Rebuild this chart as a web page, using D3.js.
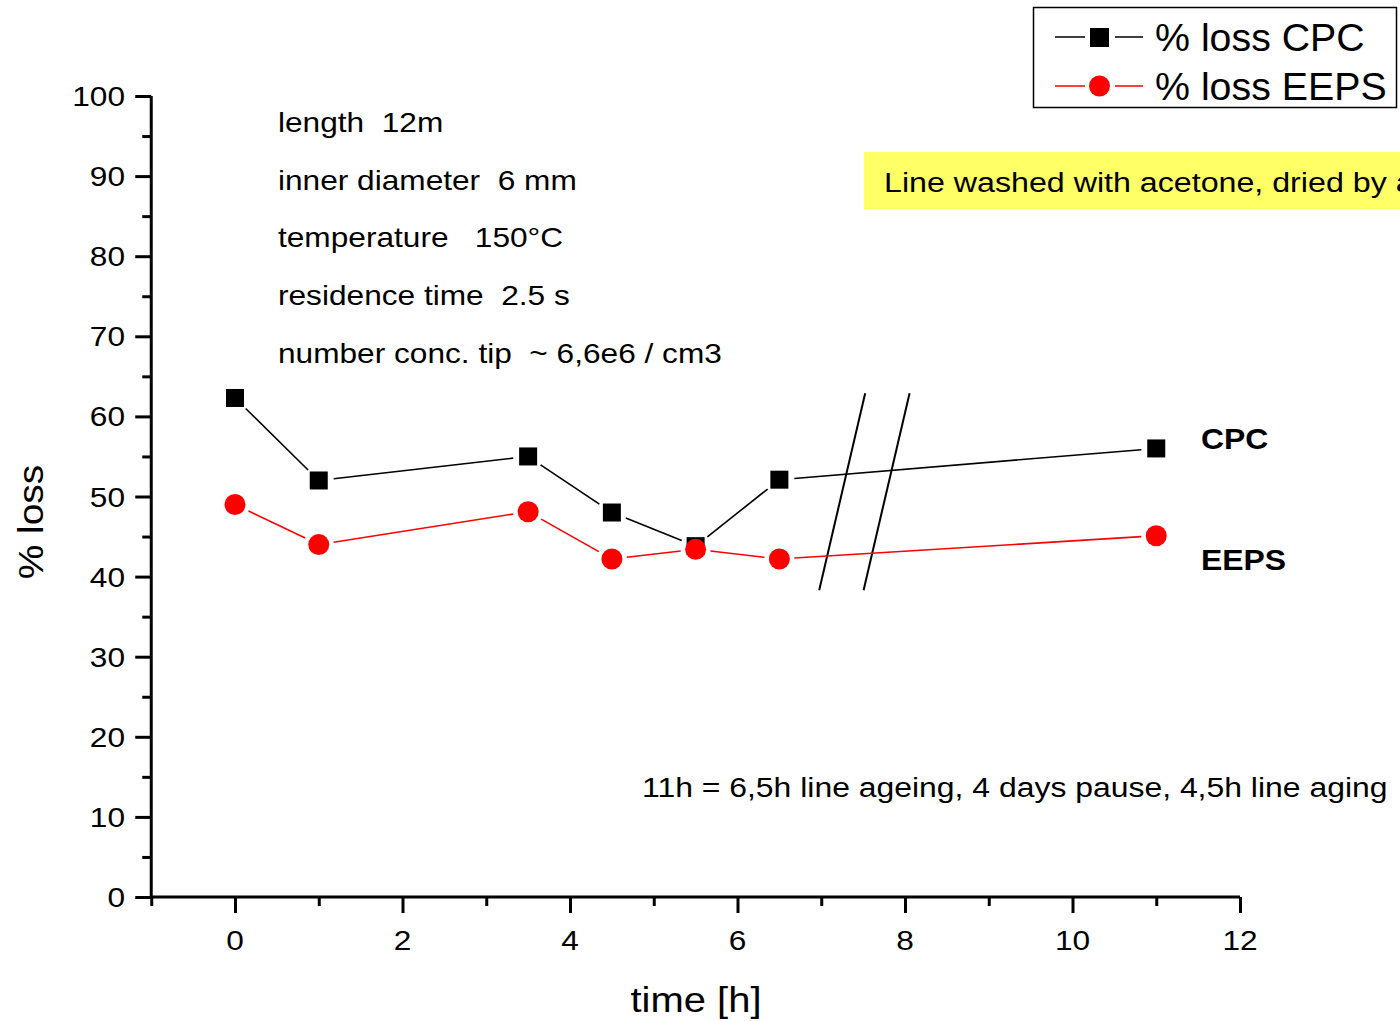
<!DOCTYPE html>
<html><head><meta charset="utf-8">
<script src="https://cdn.jsdelivr.net/npm/d3@7"></script>
<style>body{margin:0;background:#fff}svg{display:block;font-family:"Liberation Sans",Arial,sans-serif}</style>
</head><body><svg id="c" width="1400" height="1021"></svg>
<script>
const times = [0, 1, 3.5, 4.5, 5.5, 6.5, 11];
const cpc = [62.3, 52, 55, 48, 43.8, 52.1, 56];
const eeps = [49, 44, 48.1, 42.2, 43.4, 42.2, 45.1];
const xTicks = [0, 2, 4, 6, 8, 10, 12];
const yTicks = [0, 10, 20, 30, 40, 50, 60, 70, 80, 90, 100];
const infoLines = ["length  12m", "inner diameter  6 mm", "temperature   150°C", "residence time  2.5 s", "number conc. tip  ~ 6,6e6 / cm3"];
const breakMarks = [7.25, 7.78];

const svg = d3.select("#c");
const x = d3.scaleLinear().domain([-1, 12]).range([151.25, 1240]);
const y = d3.scaleLinear().domain([0, 100]).range([897, 96]);
const SX = 1.13;

function txt(g, tx, ty, s, opts = {}) {
  const t = g.append("text")
    .attr("transform", `translate(${tx},${ty})${opts.rotate ? " rotate(" + opts.rotate + ")" : ""} scale(${opts.sx || SX},1)`)
    .attr("font-size", opts.size || 28)
    .attr("text-anchor", opts.anchor || "start")
    .style("white-space", "pre")
    .text(s);
  if (opts.bold) t.attr("font-weight", "bold");
  return t;
}

// axes
const xAx = svg.append("g").attr("transform", "translate(0,897)")
  .call(d3.axisBottom(x).tickValues(d3.range(-1, 12.5, 1)).tickSize(9).tickFormat(""));
xAx.selectAll(".tick line").attr("y2", d => d % 2 === 0 ? 16 : 9);
const yAx = svg.append("g").attr("transform", "translate(151.25,0)")
  .call(d3.axisLeft(y).tickValues(d3.range(0, 101, 5)).tickSize(9).tickFormat(""));
yAx.selectAll(".tick line").attr("x2", d => d % 10 === 0 ? -16 : -9);
svg.selectAll(".domain").remove();
svg.selectAll(".tick line").attr("stroke", "#000").attr("stroke-width", 3);
svg.append("line").attr("x1", x(-1)).attr("x2", x(12)).attr("y1", y(0)).attr("y2", y(0)).attr("stroke", "#000").attr("stroke-width", 3);
svg.append("line").attr("x1", x(-1)).attr("x2", x(-1)).attr("y1", y(0)).attr("y2", y(100)).attr("stroke", "#000").attr("stroke-width", 3);

const tl = svg.append("g");
xTicks.forEach(d => txt(tl, x(d), 950, String(d), {anchor: "middle"}));
yTicks.forEach(d => txt(tl, 125, y(d) + 10, String(d), {anchor: "end"}));

txt(svg, 696, 1012, "time [h]", {anchor: "middle", size: 36, sx: 1.11});
txt(svg, 43, 522, "% loss", {anchor: "middle", size: 36, sx: 1.08, rotate: -90});

// break marks
svg.append("g").selectAll("line").data(breakMarks).join("line")
  .attr("x1", d => x(d) + 23).attr("y1", y(62.9)).attr("x2", d => x(d) - 23).attr("y2", y(38.3))
  .attr("stroke", "#000").attr("stroke-width", 2);

// series with gaps at markers
function drawSeries(vals, color, gap) {
  const pts = times.map((t, i) => [x(t), y(vals[i])]);
  const segs = [];
  for (let i = 0; i < pts.length - 1; i++) {
    const [x1, y1] = pts[i], [x2, y2] = pts[i + 1];
    const L = Math.hypot(x2 - x1, y2 - y1), ux = (x2 - x1) / L, uy = (y2 - y1) / L;
    segs.push([x1 + ux * gap, y1 + uy * gap, x2 - ux * gap, y2 - uy * gap]);
  }
  svg.append("g").selectAll("line").data(segs).join("line")
    .attr("x1", d => d[0]).attr("y1", d => d[1]).attr("x2", d => d[2]).attr("y2", d => d[3])
    .attr("stroke", color).attr("stroke-width", 1.6);
  return pts;
}
const pc = drawSeries(cpc, "#000", 15);
const pe = drawSeries(eeps, "#ff0000", 15);
svg.append("g").selectAll("rect").data(pc).join("rect")
  .attr("x", d => d[0] - 9).attr("y", d => d[1] - 9).attr("width", 18).attr("height", 18).attr("fill", "#000");
svg.append("g").selectAll("circle").data(pe).join("circle")
  .attr("cx", d => d[0]).attr("cy", d => d[1]).attr("r", 10.5).attr("fill", "#ff0000");

// annotations
const ann = svg.append("g");
infoLines.forEach((d, i) => txt(ann, 278, 132 + i * 57.7, d));
svg.append("rect").attr("x", 864).attr("y", 152).attr("width", 540).attr("height", 57).attr("fill", "#ffff66");
txt(svg, 884, 192, "Line washed with acetone, dried by air", {sx: 1.15});
txt(svg, 642, 797, "11h = 6,5h line ageing, 4 days pause, 4,5h line aging", {sx: 1.14});
txt(svg, 1201, 449, "CPC", {size: 29, bold: true, sx: 1.1});
txt(svg, 1201, 570, "EEPS", {size: 29, bold: true, sx: 1.1});

// legend
const lg = svg.append("g");
lg.append("rect").attr("x", 1033.5).attr("y", 7.5).attr("width", 363).attr("height", 100).attr("fill", "#fff").attr("stroke", "#000").attr("stroke-width", 1.5);
const legendItems = [{name: "% loss CPC", color: "#000", shape: "square", cy: 37}, {name: "% loss EEPS", color: "#ff0000", shape: "circle", cy: 86}];
legendItems.forEach(it => {
  lg.append("line").attr("x1", 1055).attr("x2", 1085).attr("y1", it.cy).attr("y2", it.cy).attr("stroke", it.color).attr("stroke-width", 1.5);
  lg.append("line").attr("x1", 1115).attr("x2", 1143).attr("y1", it.cy).attr("y2", it.cy).attr("stroke", it.color).attr("stroke-width", 1.5);
  if (it.shape === "square") lg.append("rect").attr("x", 1090).attr("y", it.cy - 9).attr("width", 19).attr("height", 19).attr("fill", it.color);
  else lg.append("circle").attr("cx", 1099.5).attr("cy", it.cy).attr("r", 10.5).attr("fill", it.color);
  txt(lg, 1155, it.cy + 14, it.name, {size: 38, sx: 1.035});
});
</script></body></html>
